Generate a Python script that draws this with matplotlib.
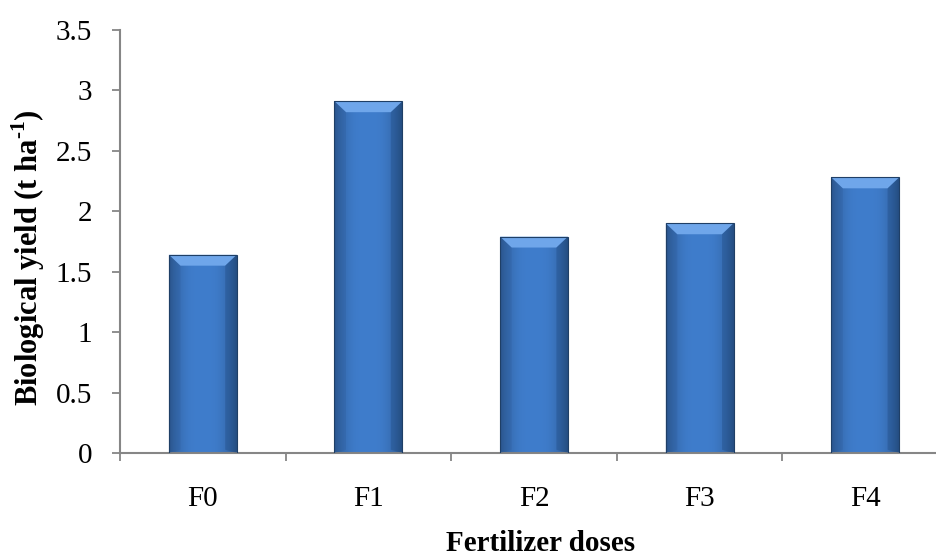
import numpy as np
import matplotlib.pyplot as plt
from matplotlib.patches import Polygon

doses = ['F0', 'F1', 'F2', 'F3', 'F4']
yield_t = [1.64, 2.91, 1.79, 1.90, 2.28]

plt.rcParams['font.family'] = 'Liberation Serif'
plt.rcParams['mathtext.fontset'] = 'custom'
plt.rcParams['mathtext.rm'] = 'Liberation Serif'
plt.rcParams['mathtext.bf'] = 'Liberation Serif:bold'

fig = plt.figure(figsize=(9.37, 5.57), dpi=100)
# axes runs a little past the right edge of the figure
ax = fig.add_axes([120 / 937, (557 - 453) / 557, 828 / 937, 423 / 557])

x = np.arange(len(doses))
width = 0.41
bars = ax.bar(x, yield_t, width, color='#3d77c2', edgecolor='#1f3f66', linewidth=0.8, zorder=2)

# horizontal shading inside each bar: darker towards the sides
grad = np.linspace(-1, 1, 64)
shade = 1 - 0.35 * np.abs(grad) ** 3
base = np.array([0x3f, 0x7d, 0xcc]) / 255
img = (shade[None, :, None] * base[None, None, :])
for b in bars:
    x0, w, h = b.get_x(), b.get_width(), b.get_height()
    im = ax.imshow(img, extent=[x0, x0 + w, 0, h], aspect='auto', zorder=2.5,
                   interpolation='bicubic')
    im.set_clip_path(b)
    # bevelled top edge
    bev_h = 0.09
    bev_w = w * 0.17
    top = Polygon([[x0, h], [x0 + w, h], [x0 + w - bev_w, h - bev_h], [x0 + bev_w, h - bev_h]],
                  closed=True, facecolor='#6fa6ea', edgecolor='none', zorder=3)
    ax.add_patch(top)
    ax.add_patch(Polygon([[x0, h], [x0 + bev_w, h - bev_h], [x0 + bev_w, bev_h * 0.3], [x0, 0]],
                         closed=True, facecolor='#2f5f9f', alpha=0.35, edgecolor='none', zorder=3))
    ax.add_patch(Polygon([[x0 + w, h], [x0 + w - bev_w, h - bev_h], [x0 + w - bev_w, bev_h * 0.3], [x0 + w, 0]],
                         closed=True, facecolor='#1f4a80', alpha=0.35, edgecolor='none', zorder=3))
    b.set_facecolor('none')
    b.set_zorder(4)

ax.set_xlim(-0.5, len(doses) - 0.5)
ax.set_ylim(0, 3.5)
ax.set_yticks(np.arange(0, 3.51, 0.5))
ax.set_yticklabels(['0', '0.5', '1', '1.5', '2', '2.5', '3', '3.5'])
ax.set_xticks(x)
ax.set_xticklabels(doses)
ax.set_xticks(np.arange(-0.5, len(doses), 1), minor=True)
ax.tick_params(axis='x', which='major', length=0, pad=24, labelsize=21)
ax.tick_params(axis='x', which='minor', length=6, width=1.3, color='#868686')
ax.tick_params(axis='y', length=6, width=1.3, color='#868686', labelsize=21, pad=14)

for s in ['top', 'right']:
    ax.spines[s].set_visible(False)
for s in ['left', 'bottom']:
    ax.spines[s].set_color('#868686')
    ax.spines[s].set_linewidth(1.5)

fig.text(28 / 937, 1 - 258 / 557, 'Biological yield (t ha$^{\\mathbf{\u2010}\\mathbf{1}}$)', fontsize=22,
         fontweight='bold', rotation=90, ha='center', va='center')
fig.text(541 / 937, 1 - 551 / 557, 'Fertilizer doses', fontsize=21, fontweight='bold',
         ha='center', va='baseline')

fig.savefig('out.png', dpi=100)
